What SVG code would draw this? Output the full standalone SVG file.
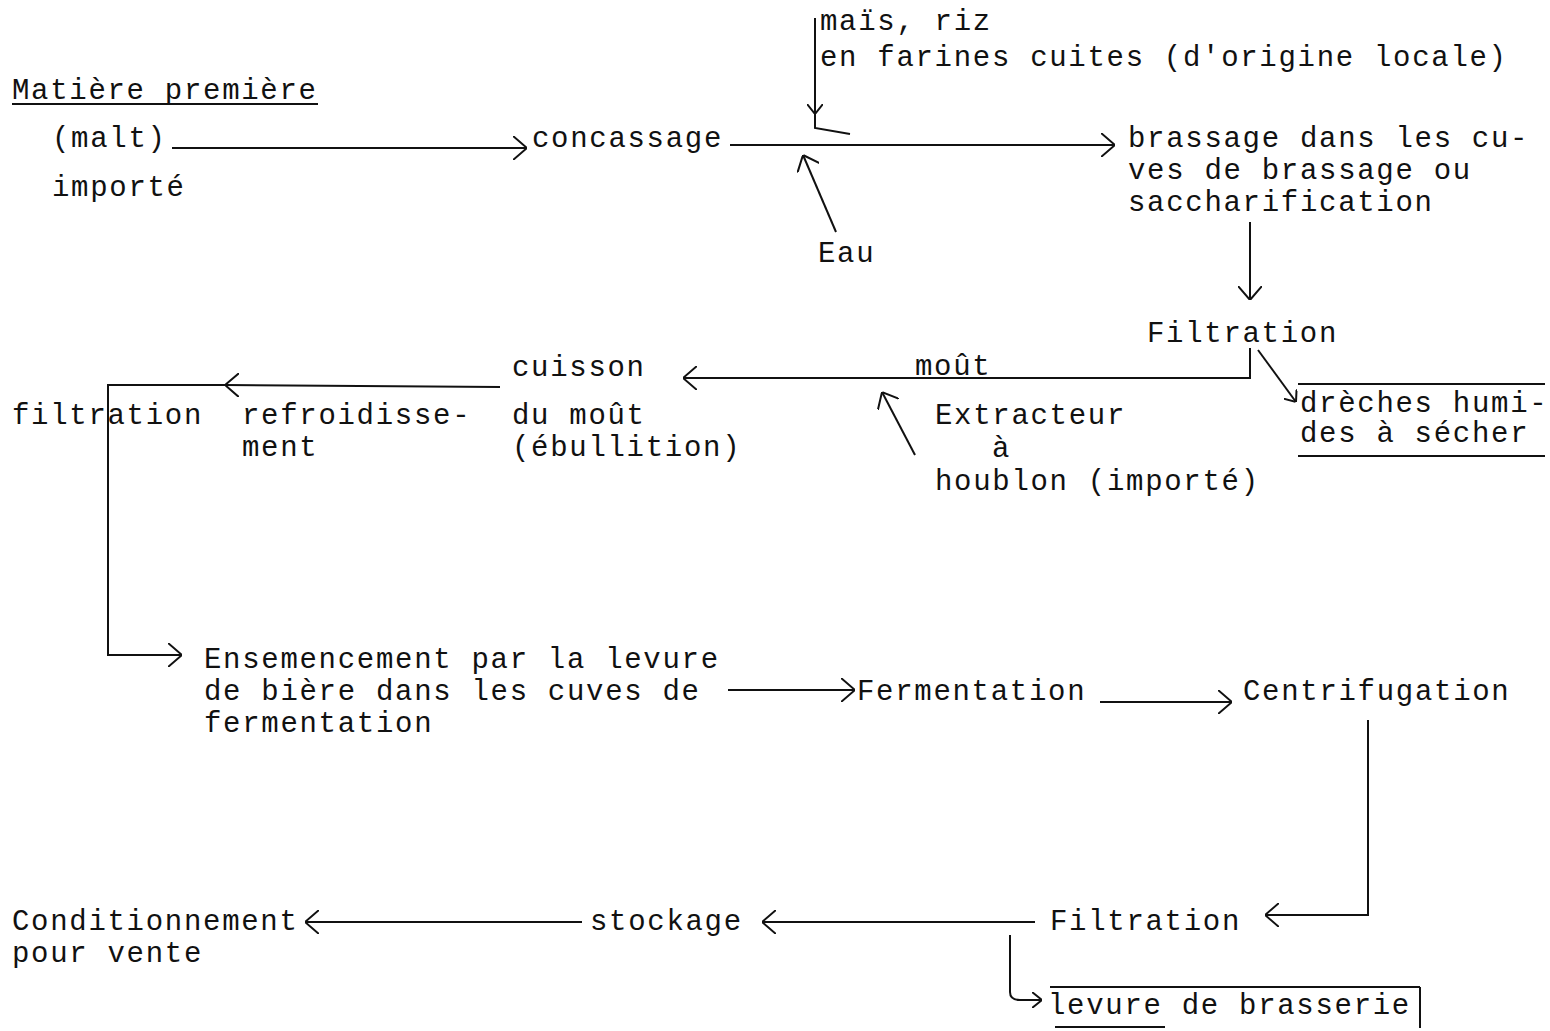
<svg xmlns="http://www.w3.org/2000/svg" width="1550" height="1031" viewBox="0 0 1550 1031">
<style>
text{font-family:"Liberation Mono","DejaVu Sans Mono",monospace;font-size:29px;letter-spacing:1.7px;fill:#111}
.c{fill:none;stroke:#111;stroke-width:2}
.u{fill:none;stroke:#111;stroke-width:2}
</style>
<defs>
<marker id="ah" viewBox="0 0 14 24" refX="14" refY="12" markerWidth="14" markerHeight="24" markerUnits="userSpaceOnUse" orient="auto">
<path d="M0,0 L14,12 L0,24" fill="none" stroke="#111" stroke-width="2"/>
</marker>
<marker id="ahs" viewBox="0 0 10 16" refX="10" refY="8" markerWidth="10" markerHeight="16" markerUnits="userSpaceOnUse" orient="auto">
<path d="M0,0 L10,8 L0,16" fill="none" stroke="#111" stroke-width="2"/>
</marker>
</defs>
<rect width="1550" height="1031" fill="#fff"/>
<g id="connectors">
<line class="c" x1="172" y1="148" x2="527" y2="148" marker-end="url(#ah)"/>
<line class="c" x1="730" y1="145" x2="1115" y2="145" marker-end="url(#ah)"/>
<line class="c" x1="815" y1="18" x2="815" y2="114" marker-end="url(#ahs)"/>
<polyline class="c" points="815,112 815,128 850,134"/>
<line class="c" x1="836" y1="232" x2="803" y2="155" marker-end="url(#ah)"/>
<line class="c" x1="1250" y1="222" x2="1250" y2="300" marker-end="url(#ah)"/>
<polyline class="c" points="1250,348 1250,378 683,378" marker-end="url(#ah)"/>
<line class="c" x1="1258" y1="350" x2="1296" y2="402" marker-end="url(#ahs)"/>
<line class="c" x1="915" y1="455" x2="882" y2="392" marker-end="url(#ah)"/>
<line class="c" x1="500" y1="387" x2="225" y2="385" marker-end="url(#ah)"/>
<polyline class="c" points="225,385 108,385 108,655 182,655" marker-end="url(#ah)"/>
<line class="c" x1="728" y1="690" x2="855" y2="690" marker-end="url(#ah)"/>
<line class="c" x1="1100" y1="702" x2="1232" y2="702" marker-end="url(#ah)"/>
<polyline class="c" points="1368,720 1368,915 1265,915" marker-end="url(#ah)"/>
<line class="c" x1="1035" y1="922" x2="762" y2="922" marker-end="url(#ah)"/>
<line class="c" x1="582" y1="922" x2="305" y2="922" marker-end="url(#ah)"/>
<path class="c" d="M1010,935 L1010,992 Q1010,1000 1020,1000 L1042,1000" marker-end="url(#ahs)"/>
</g>
<g id="n-matiere">
<text x="12" y="99">Matière première</text>
<line class="u" x1="12" y1="104" x2="318" y2="104"/>
<text x="52" y="147">(malt)</text>
<text x="52" y="196">importé</text>
</g>
<g id="n-concassage"><text x="532" y="147">concassage</text></g>
<g id="n-mais">
<text x="820" y="30">maïs, riz</text>
<text x="820" y="66">en farines cuites (d'origine locale)</text>
</g>
<g id="n-eau"><text x="818" y="262">Eau</text></g>
<g id="n-brassage">
<text x="1128" y="147">brassage dans les cu-</text>
<text x="1128" y="179">ves de brassage ou</text>
<text x="1128" y="211">saccharification</text>
</g>
<g id="n-filtration1"><text x="1147" y="342">Filtration</text></g>
<g id="n-dreches">
<line class="u" x1="1298" y1="384" x2="1545" y2="384"/>
<text x="1300" y="412">drèches humi-</text>
<text x="1300" y="442">des à sécher</text>
<line class="u" x1="1298" y1="456" x2="1545" y2="456"/>
</g>
<g id="n-mout"><text x="915" y="375">moût</text></g>
<g id="n-extracteur">
<text x="935" y="424">Extracteur</text>
<text x="992" y="457">à</text>
<text x="935" y="490">houblon (importé)</text>
</g>
<g id="n-cuisson">
<text x="512" y="376">cuisson</text>
<text x="512" y="424">du moût</text>
<text x="512" y="456">(ébullition)</text>
</g>
<g id="n-refroid">
<text x="242" y="424">refroidisse-</text>
<text x="242" y="456">ment</text>
</g>
<g id="n-filtration2"><text x="12" y="424">filtration</text></g>
<g id="n-ensemencement">
<text x="204" y="668">Ensemencement par la levure</text>
<text x="204" y="700">de bière dans les cuves de</text>
<text x="204" y="732">fermentation</text>
</g>
<g id="n-fermentation"><text x="857" y="700">Fermentation</text></g>
<g id="n-centrifugation"><text x="1243" y="700">Centrifugation</text></g>
<g id="n-filtration3"><text x="1050" y="930">Filtration</text></g>
<g id="n-stockage"><text x="590" y="930">stockage</text></g>
<g id="n-conditionnement">
<text x="12" y="930">Conditionnement</text>
<text x="12" y="962">pour vente</text>
</g>
<g id="n-levure">
<line class="u" x1="1050" y1="987" x2="1420" y2="987"/>
<text x="1048" y="1014">levure de brasserie</text>
<line class="u" x1="1420" y1="987" x2="1420" y2="1028"/>
<line class="u" x1="1055" y1="1027" x2="1165" y2="1027"/>
</g>
</svg>
